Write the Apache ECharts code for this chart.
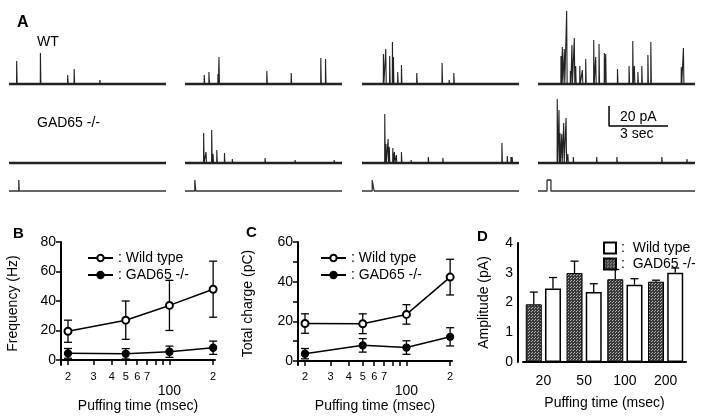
<!DOCTYPE html>
<html>
<head>
<meta charset="utf-8">
<script src="https://cdn.jsdelivr.net/npm/echarts@6/dist/echarts.min.js"></script>
<style>
html, body { margin: 0; background: #fff; }
#main { width: 704px; height: 420px; }
</style>
</head>
<body>
<div id="main"></div>
<script>
// ---- panel A: events in each trace, [time (s), amplitude (pA)] ----
const traceSec = 8;
const wt20 = [[0.39, 23], [1.60, 31], [2.99, 9], [3.32, 15], [4.63, 4]];
const wt50 = [[0.98, 9], [1.22, 12], [1.68, 10], [1.73, 27], [4.17, 13], [5.41, 11], [6.92, 26], [7.16, 25]];
const wt100 = [[1.09, 30], [1.21, 35], [1.41, 28], [1.55, 42], [1.60, 27], [1.82, 12], [2.01, 19],
	[2.79, 11], [4.08, 21], [4.44, 4], [4.68, 11]];
const wt200 = [[1.17, 28], [1.24, 37], [1.34, 35], [1.46, 73], [1.65, 13], [1.73, 39], [1.85, 46],
	[1.92, 18], [2.13, 18], [2.26, 14], [2.43, 25], [2.84, 44], [2.94, 27], [3.11, 40], [3.38, 31],
	[3.45, 30], [4.05, 15], [4.64, 18], [4.83, 43], [4.91, 18], [5.09, 12], [5.29, 18], [5.60, 29],
	[5.75, 42], [7.30, 17], [7.41, 36]];
const ko20 = [];
const ko50 = [[0.95, 30], [1.07, 11], [1.36, 33], [1.43, 9], [1.62, 13], [2.01, 10], [2.41, 4],
	[4.08, 5], [5.61, 3], [7.60, 3]];
const ko100 = [[1.16, 49], [1.22, 19], [1.33, 24], [1.39, 16], [1.57, 15], [1.65, 11], [1.75, 8],
	[2.01, 11], [2.50, 3], [3.38, 6], [4.12, 5], [7.13, 20], [7.40, 7], [7.59, 6], [7.65, 6]];
const ko200 = [[0.98, 64], [1.07, 53], [1.12, 30], [1.21, 29], [1.31, 40], [1.43, 45], [1.52, 9],
	[1.80, 6], [2.99, 6], [4.02, 6], [6.31, 6], [7.59, 4]];
const puffMs = [20, 50, 100, 200];
const puffStart = [0.5, 0.5, 0.52, 0.46];
const pulseAmp = 11;

// ---- panels B-D: means and s.e.m. per puffing time (ms) ----
const puffTimes = [20, 50, 100, 200];
const freqWT = [19.5, 27, 37, 48];
const freqWTErr = [7.5, 13, 17, 19];
const freqKO = [4.5, 4.2, 5.6, 8.3];
const freqKOErr = [3.3, 3.5, 3.8, 4.5];
const chargeWT = [18.9, 18.8, 23.5, 42.3];
const chargeWTErr = [4.9, 5, 4.9, 9];
const chargeKO = [3.7, 7.9, 6.8, 12.2];
const chargeKOErr = [2.6, 3.4, 3.4, 4.6];
const ampCats = ['20', '50', '100', '200'];
const ampWT = [2.47, 2.35, 2.6, 3.0];
const ampWTErr = [0.37, 0.28, 0.2, 0.16];
const ampKO = [1.94, 2.99, 2.78, 2.7];
const ampKOErr = [0.41, 0.4, 0.33, 0.05];

const logTicks = [20, 30, 40, 50, 60, 70, 80, 90, 100, 200];
const logLabels = [20, 30, 40, 50, 60, 70, 100, 200];

const FONT = 'Liberation Sans, Arial, sans-serif';
const chart = echarts.init(document.getElementById('main'));

// 画一条记录：基线 + 事件
function trace(events) {
	const pts = [[0, 0]];
	events.forEach(([t, a]) => {
		pts.push([t - 0.005, 0], [t, a], [t + 0.025, 0]);
	});
	pts.push([traceSec, 0]);
	return pts;
}
function pulse(start, ms) {
	const end = start + ms / 1000;
	return [[0, 0], [start, 0], [start, pulseAmp], [end, pulseAmp], [end, 0], [traceSec, 0]];
}
// 误差线
function errBar(offset, oneSided) {
	return function (params, api) {
		const x = api.value(0), y = api.value(1), e = api.value(2);
		const top = api.coord([x, y + e]);
		const bot = api.coord([x, oneSided ? y : y - e]);
		const cx = top[0] + offset;
		const st = { stroke: '#000', lineWidth: 1.3 };
		const kids = [
			{ type: 'line', shape: { x1: cx, y1: top[1], x2: cx, y2: bot[1] }, style: st },
			{ type: 'line', shape: { x1: cx - 4, y1: top[1], x2: cx + 4, y2: top[1] }, style: st },
		];
		if (!oneSided) {
			kids.push({ type: 'line', shape: { x1: cx - 4, y1: bot[1], x2: cx + 4, y2: bot[1] }, style: st });
		}
		return { type: 'group', children: kids };
	};
}
function dotPattern() {
	const c = document.createElement('canvas');
	c.width = 3; c.height = 3;
	const g = c.getContext('2d');
	g.fillStyle = '#3a3a3a';
	g.fillRect(0, 0, 3, 3);
	g.fillStyle = '#b0b0b0';
	g.fillRect(1, 1, 1, 1);
	g.fillRect(0, 2, 1, 1);
	return c;
}

const grids = [], xAxes = [], yAxes = [], series = [];
const colLeft = [9, 185, 362, 538];
const wtSets = [wt20, wt50, wt100, wt200];
const koSets = [ko20, ko50, ko100, ko200];
// row: [top, height, min, max]
const rows = [[9, 80, -5, 75], [88, 80, -5, 75], [178, 15, -2, 13]];
rows.forEach((r, ri) => {
	colLeft.forEach((left, ci) => {
		const idx = grids.length;
		grids.push({ left: left, top: r[0], width: 157, height: r[1] });
		xAxes.push({ gridIndex: idx, type: 'value', min: 0, max: traceSec, show: false });
		yAxes.push({ gridIndex: idx, type: 'value', min: r[2], max: r[3], show: false });
		const base = { type: 'line', xAxisIndex: idx, yAxisIndex: idx, showSymbol: false, animation: false, silent: true };
		if (ri === 2) {
			series.push(Object.assign({
				data: pulse(puffStart[ci], puffMs[ci]),
				lineStyle: { color: '#333', width: 1.3 },
			}, base));
			return;
		}
		const ev = ri === 0 ? wtSets[ci] : koSets[ci];
		// 基线（带噪声的粗线）
		series.push(Object.assign({
			data: [[0, 0], [traceSec, 0]],
			lineStyle: { color: '#222', width: 2.6 },
		}, base));
		series.push(Object.assign({
			data: trace(ev),
			lineStyle: { color: '#222', width: 1.1 },
		}, base));
	});
});
// scale bar (20 pA / 3 sec) in the GAD65 col 4 grid
const scaleT = 3.62, scaleBase = 37, scalePA = 20, scaleSec = 3;
series.push({
	type: 'line', xAxisIndex: 7, yAxisIndex: 7, showSymbol: false, animation: false, silent: true,
	data: [[scaleT, scaleBase + scalePA], [scaleT, scaleBase], [scaleT + scaleSec, scaleBase]],
	lineStyle: { color: '#000', width: 1.5 },
});

const axisLine = { lineStyle: { color: '#000', width: 2 } };
const axisTick = { length: 5, lineStyle: { color: '#000', width: 1.5 } };

function logX(gi) {
	return {
		gridIndex: gi, type: 'log', logBase: 10, min: 17.9, max: 206,
		axisLine: axisLine,
		axisTick: Object.assign({ customValues: logTicks }, axisTick),
		splitLine: { show: false },
		axisLabel: {
			customValues: logLabels, color: '#000', fontSize: 11, margin: 6,
			formatter: v => (v === 100 ? '{b|100}' : String(v >= 100 ? v / 100 : v / 10)),
			rich: { b: { fontSize: 14, padding: [13, 0, 0, 0], color: '#000' } },
		},
		name: 'Puffing time (msec)', nameLocation: 'middle', nameGap: 31,
		nameTextStyle: { fontSize: 14, color: '#000' },
	};
}
function valY(gi, min, max, labels, ticks, name, gap) {
	return {
		gridIndex: gi, type: 'value', min: min, max: max,
		axisLine: Object.assign({ show: true }, axisLine),
		axisTick: Object.assign({ customValues: ticks }, axisTick),
		splitLine: { show: false },
		axisLabel: { customValues: labels, color: '#000', fontSize: 14, margin: 5 },
		name: name, nameLocation: 'middle', nameGap: gap,
		nameTextStyle: { fontSize: 14, color: '#000' },
	};
}

// B
grids.push({ left: 61, top: 242, width: 154, height: 123 });
xAxes.push(logX(12));
yAxes.push(valY(12, -3.4, 80, [0, 20, 40, 60, 80], [0, 20, 40, 60, 80], 'Frequency (Hz)', 41));
// C
grids.push({ left: 298, top: 242, width: 154, height: 123 });
xAxes.push(logX(13));
yAxes.push(valY(13, -2, 60, [0, 20, 40, 60], [0, 10, 20, 30, 40, 50, 60], 'Total charge (pC)', 43));
// D
grids.push({ left: 523, top: 243, width: 163, height: 119 });
xAxes.push({
	gridIndex: 14, type: 'category', data: ampCats,
	axisLine: axisLine,
	axisTick: { length: 10, interval: 0, lineStyle: { color: '#000', width: 1.5 } },
	axisLabel: { color: '#000', fontSize: 14, margin: 12 },
	name: 'Puffing time (msec)', nameLocation: 'middle', nameGap: 34,
	nameTextStyle: { fontSize: 14, color: '#000' },
});
yAxes.push(Object.assign(valY(14, 0, 4, [0, 1, 2, 3, 4], [0, 1, 2, 3, 4], 'Amplitude (pA)', 27), { offset: 5 }));

function lineSeries(gi, name, vals, filled) {
	return {
		type: 'line', name: name, xAxisIndex: gi, yAxisIndex: gi, z: 3,
		data: puffTimes.map((t, i) => [t, vals[i]]),
		symbol: filled ? 'circle' : 'emptyCircle', symbolSize: 7, animation: false,
		itemStyle: { color: '#000', borderColor: '#000', borderWidth: 1.3 },
		lineStyle: { color: '#000', width: 1.5 },
	};
}
function errSeries(gi, vals, errs) {
	return {
		type: 'custom', xAxisIndex: gi, yAxisIndex: gi, z: 2, silent: true, animation: false,
		data: puffTimes.map((t, i) => [t, vals[i], errs[i]]),
		renderItem: errBar(0, false),
	};
}
series.push(errSeries(12, freqWT, freqWTErr), errSeries(12, freqKO, freqKOErr));
series.push(lineSeries(12, 'Wild type', freqWT, false), lineSeries(12, 'GAD65 -/-', freqKO, true));
series.push(errSeries(13, chargeWT, chargeWTErr), errSeries(13, chargeKO, chargeKOErr));
series.push(lineSeries(13, 'Wild type', chargeWT, false), lineSeries(13, 'GAD65 -/-', chargeKO, true));

const pattern = dotPattern();
series.push({
	type: 'bar', name: 'GAD65 -/- ', xAxisIndex: 14, yAxisIndex: 14, data: ampKO,
	barWidth: 16, barGap: '20%', animation: false,
	itemStyle: { color: { image: pattern, repeat: 'repeat' }, borderColor: '#000', borderWidth: 1 },
});
series.push({
	type: 'bar', name: 'Wild type ', xAxisIndex: 14, yAxisIndex: 14, data: ampWT,
	barWidth: 16, barGap: '20%', animation: false,
	itemStyle: { color: '#fff', borderColor: '#000', borderWidth: 1.5 },
});
series.push({
	type: 'custom', xAxisIndex: 14, yAxisIndex: 14, silent: true, animation: false, z: 3,
	data: ampKO.map((v, i) => [i, v, ampKOErr[i]]), renderItem: errBar(-9.6, true),
});
series.push({
	type: 'custom', xAxisIndex: 14, yAxisIndex: 14, silent: true, animation: false, z: 3,
	data: ampWT.map((v, i) => [i, v, ampWTErr[i]]), renderItem: errBar(9.6, true),
});

const legendText = { fontSize: 14, color: '#000', fontFamily: FONT };
function lineLegend(left) {
	return {
		data: ['Wild type', 'GAD65 -/-'], orient: 'vertical', left: left, top: 246,
		itemWidth: 25, itemHeight: 8, itemGap: 3, itemTextGap: 1,
		formatter: ': {name}', textStyle: legendText, selectedMode: false,
	};
}

function txt(x, y, s, size, bold) {
	return {
		type: 'text', x: x, y: y,
		style: { text: s, fill: '#000', font: (bold ? 'bold ' : '') + size + 'px ' + FONT, verticalAlign: 'middle' },
	};
}

chart.setOption({
	animation: false,
	textStyle: { fontFamily: FONT },
	grid: grids,
	xAxis: xAxes,
	yAxis: yAxes,
	legend: [
		lineLegend(82),
		lineLegend(315),
		{
			data: [{ name: 'Wild type ', icon: 'rect' }, { name: 'GAD65 -/- ', icon: 'rect' }],
			orient: 'vertical', left: 598, top: 236, itemWidth: 12, itemHeight: 11, itemGap: 2,
			itemTextGap: 3, formatter: n => ':  ' + n.trim(), textStyle: legendText, selectedMode: false,
		},
	],
	series: series,
	graphic: [
		txt(17, 23, 'A', 16, true),
		txt(37, 42, 'WT', 14),
		txt(37, 123, 'GAD65 -/-', 14),
		txt(620, 117, '20 pA', 14),
		txt(620, 134, '3 sec', 14),
		txt(13, 234, 'B', 15, true),
		txt(246, 233, 'C', 15, true),
		txt(477, 237, 'D', 15, true),
	],
});
</script>
</body>
</html>
